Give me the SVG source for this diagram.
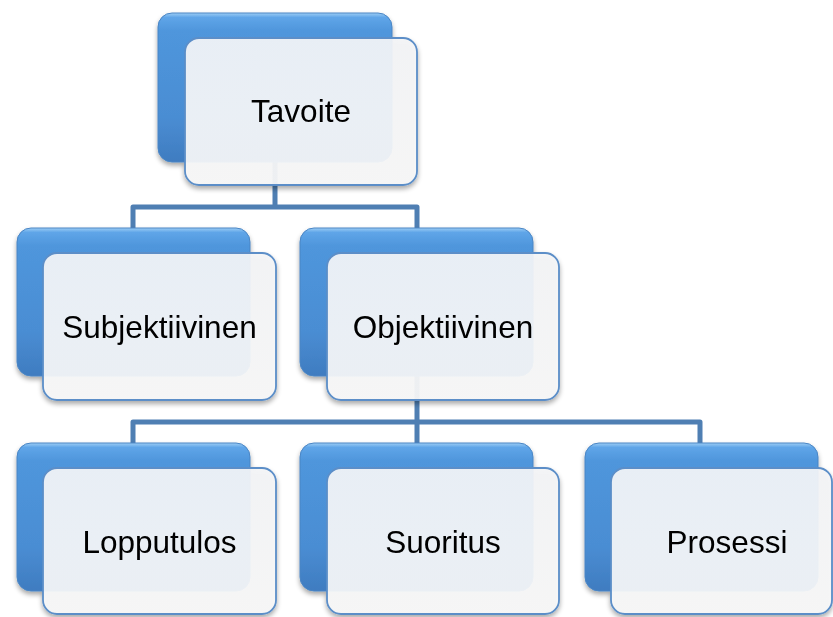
<svg xmlns="http://www.w3.org/2000/svg" width="833" height="617" viewBox="0 0 833 617">
<defs>
<linearGradient id="blue" x1="0" y1="0" x2="0" y2="1">
<stop offset="0" stop-color="#9ccdf5"/>
<stop offset="0.03" stop-color="#5fa5e8"/>
<stop offset="0.12" stop-color="#4f96dc"/>
<stop offset="0.7" stop-color="#4a8dd3"/>
<stop offset="1" stop-color="#3f7cc0"/>
</linearGradient>
<linearGradient id="front" x1="0" y1="0" x2="0" y2="1">
<stop offset="0" stop-color="#f4f5f7"/>
<stop offset="1" stop-color="#f8f8f8"/>
</linearGradient>
<filter id="sh" x="-10%" y="-10%" width="130%" height="130%">
<feGaussianBlur in="SourceAlpha" stdDeviation="2.5"/>
<feOffset dx="0" dy="3" result="b"/>
<feComponentTransfer><feFuncA type="linear" slope="0.35"/></feComponentTransfer>
<feMerge><feMergeNode/><feMergeNode in="SourceGraphic"/></feMerge>
</filter>
</defs>
<style>
.back{fill:url(#blue);stroke:#4a85c4;stroke-width:1}
.fr{fill:url(#front);fill-opacity:0.93;stroke:#5b8ec8;stroke-width:1.8}
.lbl{font-family:"Liberation Sans",Arial,sans-serif;font-size:31.5px;fill:#000;text-anchor:middle}
.con{fill:none;stroke:#4f7fb3;stroke-width:5;stroke-linejoin:round}
</style>
<rect width="833" height="617" fill="#fff"/>
<g id="connectors">
<path class="con" d="M275,162 V207 M133,228 V207 H417 V228"/>
<path class="con" d="M417,375 V443 M133,443 V422 H700 V443"/>
</g>
<g id="n-tavoite" filter="url(#sh)">
<rect class="back" x="158" y="13" width="234" height="149" rx="14"/>
<rect class="fr" x="185" y="38" width="232" height="147" rx="14"/>
<text class="lbl" x="301" y="122">Tavoite</text>
</g>
<g id="n-subjektiivinen" filter="url(#sh)">
<rect class="back" x="17" y="228" width="233" height="148" rx="14"/>
<rect class="fr" x="43" y="253" width="233" height="147" rx="14"/>
<text class="lbl" x="159.5" y="338">Subjektiivinen</text>
</g>
<g id="n-objektiivinen" filter="url(#sh)">
<rect class="back" x="300" y="228" width="233" height="148" rx="14"/>
<rect class="fr" x="327" y="253" width="232" height="147" rx="14"/>
<text class="lbl" x="443" y="338">Objektiivinen</text>
</g>
<g id="n-lopputulos" filter="url(#sh)">
<rect class="back" x="17" y="443" width="233" height="148" rx="14"/>
<rect class="fr" x="43" y="468" width="233" height="146" rx="14"/>
<text class="lbl" x="159.5" y="553">Lopputulos</text>
</g>
<g id="n-suoritus" filter="url(#sh)">
<rect class="back" x="300" y="443" width="233" height="148" rx="14"/>
<rect class="fr" x="327" y="468" width="232" height="146" rx="14"/>
<text class="lbl" x="443" y="553">Suoritus</text>
</g>
<g id="n-prosessi" filter="url(#sh)">
<rect class="back" x="585" y="443" width="233" height="148" rx="14"/>
<rect class="fr" x="611" y="468" width="221" height="146" rx="14"/>
<text class="lbl" x="727" y="553">Prosessi</text>
</g>
</svg>
